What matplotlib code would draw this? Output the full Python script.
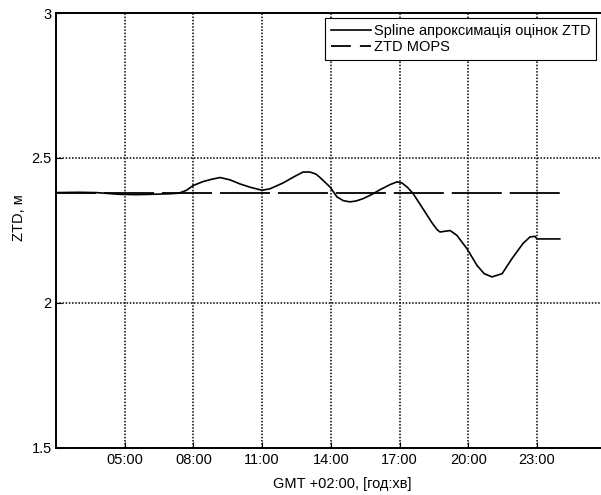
import numpy as np
import matplotlib
matplotlib.use('Agg')
import matplotlib.pyplot as plt
from matplotlib.lines import Line2D

plt.rcParams['font.family'] = ['Liberation Sans', 'DejaVu Sans']

# Spline approximation of ZTD estimates, hours (GMT+2) vs metres
spline_hours = [2.00, 3.00, 3.75, 4.79, 5.50, 6.10, 6.98, 7.37, 7.70, 7.98, 8.42, 8.80,
                9.16, 9.60, 10.03, 10.50, 11.00, 11.34, 11.91, 12.40, 12.79, 13.09,
                13.35, 13.53, 13.97, 14.27, 14.55, 14.84, 15.10, 15.41, 15.80, 16.15,
                16.60, 16.89, 17.11, 17.35, 17.59, 18.10, 18.40, 18.64, 18.77, 18.95,
                19.21, 19.51, 19.95, 20.38, 20.70, 21.04, 21.48, 21.91, 22.39, 22.70,
                22.92, 23.00, 24.00]
spline_ztd = [2.380, 2.381, 2.380, 2.374, 2.373, 2.374, 2.376, 2.378, 2.388, 2.404,
              2.418, 2.426, 2.432, 2.424, 2.410, 2.398, 2.388, 2.393, 2.413, 2.435,
              2.451, 2.451, 2.444, 2.432, 2.399, 2.365, 2.352, 2.348, 2.351, 2.359,
              2.374, 2.390, 2.408, 2.417, 2.413, 2.398, 2.377, 2.315, 2.278, 2.252,
              2.244, 2.246, 2.249, 2.232, 2.186, 2.129, 2.100, 2.089, 2.100, 2.152,
              2.204, 2.227, 2.229, 2.220, 2.220]

# ZTD from the MOPS model
mops_hours = [2.0, 24.0]
mops_ztd = [2.378, 2.378]

xticks = [5, 8, 11, 14, 17, 20, 23]
xticklabels = ['05:00', '08:00', '11:00', '14:00', '17:00', '20:00', '23:00']
yticks = [1.5, 2, 2.5, 3]
yticklabels = ['1.5', '2', '2.5', '3']

fig = plt.figure(figsize=(6.01, 4.95), dpi=100)
# axes runs past the right edge of the picture, like the cropped original
ax = fig.add_axes([56 / 601, 47.5 / 495, 572.5 / 601, 434.5 / 495])

ax.plot(spline_hours, spline_ztd, color='black', lw=1.2)
ax.plot(mops_hours, mops_ztd, color='black', lw=1.3, linestyle=(5.5, (27.7, 4.4)))

ax.set_xlim(2, 27)
ax.set_ylim(1.5, 3)
ax.set_xticks(xticks)
ax.set_xticklabels(xticklabels)
ax.set_yticks(yticks)
ax.set_yticklabels(yticklabels)
ax.tick_params(direction='in', length=4, width=0.8, labelsize=10.5, pad=4)
ax.tick_params(axis='y', pad=3)
ax.grid(True, color='black', lw=1.1, linestyle=(0, (1, 1.1)))

for s in ax.spines.values():
    s.set_linewidth(1.4)
ax.spines['right'].set_visible(False)

ax.set_xlabel('GMT +02:00, [год:хв]', fontsize=10.5, labelpad=7)
ax.set_ylabel('ZTD, м', fontsize=10.5)
ax.yaxis.set_label_coords(-0.052, 0.53)

# legend uses its own short dashes
handles = [Line2D([], [], color='black', lw=1.2),
           Line2D([], [], color='black', lw=1.3, dashes=(11, 5))]
leg = ax.legend(handles, ['Spline апроксимація оцінок ZTD', 'ZTD MOPS'],
                loc='upper right', bbox_to_anchor=(596 / 601, 1 - 18 / 495),
                bbox_transform=fig.transFigure, borderaxespad=0, fancybox=False,
                edgecolor='black', framealpha=1, fontsize=10.5, handlelength=2.7,
                handletextpad=0.2, borderpad=0.4, labelspacing=0.15)
leg.get_frame().set_linewidth(0.8)

fig.savefig('out.png', dpi=100)
